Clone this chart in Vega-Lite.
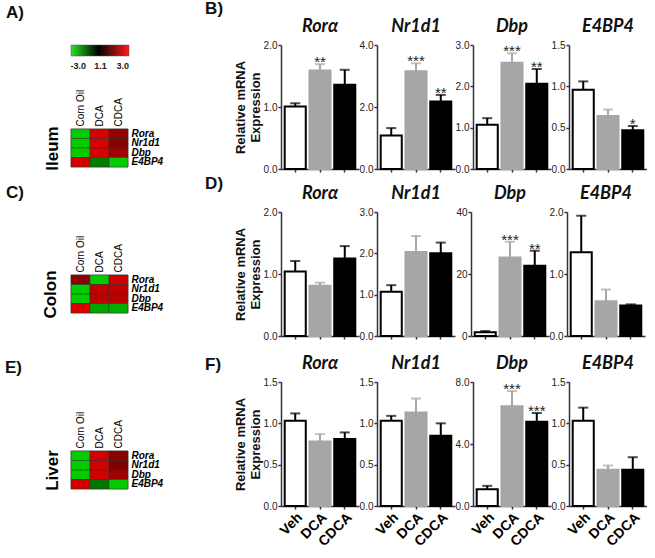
{
  "$schema": "https://vega.github.io/schema/vega-lite/v6.json",
  "padding": {"left": 5, "top": 0, "right": 0, "bottom": 0},
  "datasets": {
    "bars": [
      {"tissue": "Ileum", "gene": "Rorα", "group": "Veh", "mean": 1.01, "upper": 1.06, "sig": ""},
      {"tissue": "Ileum", "gene": "Rorα", "group": "DCA", "mean": 1.59, "upper": 1.69, "sig": "**"},
      {"tissue": "Ileum", "gene": "Rorα", "group": "CDCA", "mean": 1.36, "upper": 1.60, "sig": ""},
      {"tissue": "Ileum", "gene": "Nr1d1", "group": "Veh", "mean": 1.08, "upper": 1.32, "sig": ""},
      {"tissue": "Ileum", "gene": "Nr1d1", "group": "DCA", "mean": 3.15, "upper": 3.41, "sig": "***"},
      {"tissue": "Ileum", "gene": "Nr1d1", "group": "CDCA", "mean": 2.18, "upper": 2.39, "sig": "**"},
      {"tissue": "Ileum", "gene": "Dbp", "group": "Veh", "mean": 1.07, "upper": 1.23, "sig": ""},
      {"tissue": "Ileum", "gene": "Dbp", "group": "DCA", "mean": 2.57, "upper": 2.80, "sig": "***"},
      {"tissue": "Ileum", "gene": "Dbp", "group": "CDCA", "mean": 2.06, "upper": 2.42, "sig": "**"},
      {"tissue": "Ileum", "gene": "E4BP4", "group": "Veh", "mean": 0.96, "upper": 1.06, "sig": ""},
      {"tissue": "Ileum", "gene": "E4BP4", "group": "DCA", "mean": 0.64, "upper": 0.72, "sig": ""},
      {"tissue": "Ileum", "gene": "E4BP4", "group": "CDCA", "mean": 0.47, "upper": 0.52, "sig": "*"},
      {"tissue": "Colon", "gene": "Rorα", "group": "Veh", "mean": 1.04, "upper": 1.21, "sig": ""},
      {"tissue": "Colon", "gene": "Rorα", "group": "DCA", "mean": 0.81, "upper": 0.86, "sig": ""},
      {"tissue": "Colon", "gene": "Rorα", "group": "CDCA", "mean": 1.25, "upper": 1.45, "sig": ""},
      {"tissue": "Colon", "gene": "Nr1d1", "group": "Veh", "mean": 1.07, "upper": 1.23, "sig": ""},
      {"tissue": "Colon", "gene": "Nr1d1", "group": "DCA", "mean": 2.03, "upper": 2.42, "sig": ""},
      {"tissue": "Colon", "gene": "Nr1d1", "group": "CDCA", "mean": 2.0, "upper": 2.26, "sig": ""},
      {"tissue": "Colon", "gene": "Dbp", "group": "Veh", "mean": 1.2, "upper": 1.6, "sig": ""},
      {"tissue": "Colon", "gene": "Dbp", "group": "DCA", "mean": 25.3, "upper": 30.4, "sig": "***"},
      {"tissue": "Colon", "gene": "Dbp", "group": "CDCA", "mean": 22.7, "upper": 27.5, "sig": "**"},
      {"tissue": "Colon", "gene": "E4BP4", "group": "Veh", "mean": 1.35, "upper": 1.94, "sig": ""},
      {"tissue": "Colon", "gene": "E4BP4", "group": "DCA", "mean": 0.56, "upper": 0.75, "sig": ""},
      {"tissue": "Colon", "gene": "E4BP4", "group": "CDCA", "mean": 0.49, "upper": 0.51, "sig": ""},
      {"tissue": "Liver", "gene": "Rorα", "group": "Veh", "mean": 1.03, "upper": 1.12, "sig": ""},
      {"tissue": "Liver", "gene": "Rorα", "group": "DCA", "mean": 0.78, "upper": 0.87, "sig": ""},
      {"tissue": "Liver", "gene": "Rorα", "group": "CDCA", "mean": 0.81, "upper": 0.89, "sig": ""},
      {"tissue": "Liver", "gene": "Nr1d1", "group": "Veh", "mean": 1.03, "upper": 1.09, "sig": ""},
      {"tissue": "Liver", "gene": "Nr1d1", "group": "DCA", "mean": 1.13, "upper": 1.30, "sig": ""},
      {"tissue": "Liver", "gene": "Nr1d1", "group": "CDCA", "mean": 0.85, "upper": 1.0, "sig": ""},
      {"tissue": "Liver", "gene": "Dbp", "group": "Veh", "mean": 1.08, "upper": 1.3, "sig": ""},
      {"tissue": "Liver", "gene": "Dbp", "group": "DCA", "mean": 6.44, "upper": 7.42, "sig": "***"},
      {"tissue": "Liver", "gene": "Dbp", "group": "CDCA", "mean": 5.43, "upper": 6.0, "sig": "***"},
      {"tissue": "Liver", "gene": "E4BP4", "group": "Veh", "mean": 1.03, "upper": 1.19, "sig": ""},
      {"tissue": "Liver", "gene": "E4BP4", "group": "DCA", "mean": 0.44, "upper": 0.49, "sig": ""},
      {"tissue": "Liver", "gene": "E4BP4", "group": "CDCA", "mean": 0.44, "upper": 0.59, "sig": ""}
    ],
    "heat": [
      {"tissue": "Ileum", "gene": "Rora", "treatment": "Corn Oil", "value": -2.55},
      {"tissue": "Ileum", "gene": "Rora", "treatment": "DCA", "value": 2.59},
      {"tissue": "Ileum", "gene": "Rora", "treatment": "CDCA", "value": 1.9},
      {"tissue": "Ileum", "gene": "Nr1d1", "treatment": "Corn Oil", "value": -2.55},
      {"tissue": "Ileum", "gene": "Nr1d1", "treatment": "DCA", "value": 2.59},
      {"tissue": "Ileum", "gene": "Nr1d1", "treatment": "CDCA", "value": 1.71},
      {"tissue": "Ileum", "gene": "Dbp", "treatment": "Corn Oil", "value": -2.55},
      {"tissue": "Ileum", "gene": "Dbp", "treatment": "DCA", "value": 2.59},
      {"tissue": "Ileum", "gene": "Dbp", "treatment": "CDCA", "value": 2.01},
      {"tissue": "Ileum", "gene": "E4BP4", "treatment": "Corn Oil", "value": 2.55},
      {"tissue": "Ileum", "gene": "E4BP4", "treatment": "DCA", "value": -1.1},
      {"tissue": "Ileum", "gene": "E4BP4", "treatment": "CDCA", "value": -2.55},
      {"tissue": "Colon", "gene": "Rora", "treatment": "Corn Oil", "value": 1.77},
      {"tissue": "Colon", "gene": "Rora", "treatment": "DCA", "value": -2.55},
      {"tissue": "Colon", "gene": "Rora", "treatment": "CDCA", "value": 2.49},
      {"tissue": "Colon", "gene": "Nr1d1", "treatment": "Corn Oil", "value": -2.55},
      {"tissue": "Colon", "gene": "Nr1d1", "treatment": "DCA", "value": 2.35},
      {"tissue": "Colon", "gene": "Nr1d1", "treatment": "CDCA", "value": 2.35},
      {"tissue": "Colon", "gene": "Dbp", "treatment": "Corn Oil", "value": -2.55},
      {"tissue": "Colon", "gene": "Dbp", "treatment": "DCA", "value": 2.35},
      {"tissue": "Colon", "gene": "Dbp", "treatment": "CDCA", "value": 2.29},
      {"tissue": "Colon", "gene": "E4BP4", "treatment": "Corn Oil", "value": 2.62},
      {"tissue": "Colon", "gene": "E4BP4", "treatment": "DCA", "value": -1.83},
      {"tissue": "Colon", "gene": "E4BP4", "treatment": "CDCA", "value": -2.02},
      {"tissue": "Liver", "gene": "Rora", "treatment": "Corn Oil", "value": -2.55},
      {"tissue": "Liver", "gene": "Rora", "treatment": "DCA", "value": 2.53},
      {"tissue": "Liver", "gene": "Rora", "treatment": "CDCA", "value": 1.77},
      {"tissue": "Liver", "gene": "Nr1d1", "treatment": "Corn Oil", "value": -2.55},
      {"tissue": "Liver", "gene": "Nr1d1", "treatment": "DCA", "value": 2.53},
      {"tissue": "Liver", "gene": "Nr1d1", "treatment": "CDCA", "value": 1.65},
      {"tissue": "Liver", "gene": "Dbp", "treatment": "Corn Oil", "value": -2.55},
      {"tissue": "Liver", "gene": "Dbp", "treatment": "DCA", "value": 2.53},
      {"tissue": "Liver", "gene": "Dbp", "treatment": "CDCA", "value": 1.99},
      {"tissue": "Liver", "gene": "E4BP4", "treatment": "Corn Oil", "value": 2.53},
      {"tissue": "Liver", "gene": "E4BP4", "treatment": "DCA", "value": -0.95},
      {"tissue": "Liver", "gene": "E4BP4", "treatment": "CDCA", "value": -2.55}
    ]
  },
  "spacing": 42,
  "hconcat": [
    {
      "spacing": 13,
      "vconcat": [
        {
          "spacing": 19,
          "vconcat": [
            {
              "width": 58, "height": 11,
              "title": {"text": "A)", "anchor": "start", "font": "Liberation Sans", "fontStyle": "normal", "fontWeight": "bold", "fontSize": 17, "dx": -64, "offset": 23},
              "data": {"values": [{"lo": -3, "hi": 3}]},
              "mark": {"type": "rect", "stroke": "#555", "strokeWidth": 0.5,
                "fill": {"gradient": "linear", "x1": 0, "x2": 1, "y1": 0, "y2": 0,
                  "stops": [{"offset": 0, "color": "#26e626"}, {"offset": 0.47, "color": "#000000"}, {"offset": 1, "color": "#ff1a1a"}]}},
              "encoding": {
                "x": {"field": "lo", "type": "quantitative", "scale": {"domain": [-3, 3], "nice": false},
                  "axis": {"values": [-2.3, 0, 2.3], "labelExpr": "datum.value < -1 ? '-3.0' : datum.value > 1 ? '3.0' : '1.1'", "domain": false, "ticks": false, "title": null, "labelFont": "Liberation Sans", "labelFontWeight": "bold", "labelFontSize": 9, "labelColor": "#222", "labelPadding": 5}},
                "x2": {"field": "hi"}
              }
            },
            {
              "width": 57, "height": 38,
              "data": {"name": "heat"},
              "transform": [{"filter": "datum.tissue == 'Ileum'"}],
              "encoding": {
                "x": {"field": "treatment", "type": "nominal", "sort": ["Corn Oil", "DCA", "CDCA"], "axis": {"orient": "top", "labelAngle": -90, "title": null, "ticks": false, "domain": false, "labelFont": "Liberation Sans", "labelFontSize": 10, "labelColor": "#000", "labelPadding": 3}},
                "fill": {"field": "value", "type": "quantitative", "scale": {"domain": [-3, 1.1, 3], "range": ["#26e626", "#000000", "#ff1a1a"]}, "legend": null}
              },
              "layer": [
                {"mark": {"type": "rect", "stroke": "#333", "strokeWidth": 0.5},
                 "encoding": {"y": {"field": "gene", "type": "nominal", "sort": ["Rora", "Nr1d1", "Dbp", "E4BP4"], "axis": {"orient": "right", "title": null, "ticks": false, "domain": false, "labelFont": "Liberation Sans", "labelFontStyle": "italic", "labelFontWeight": "bold", "labelFontSize": 10, "labelColor": "#000", "labelPadding": 3}}}},
                {"mark": {"type": "rect", "stroke": "#333", "strokeWidth": 0.5},
                 "encoding": {"y": {"field": "gene", "type": "nominal", "sort": ["Rora", "Nr1d1", "Dbp", "E4BP4"], "axis": {"orient": "left", "labels": false, "ticks": false, "domain": false, "title": "Ileum", "titleFont": "Liberation Sans", "titleFontSize": 17, "titleFontWeight": "bold", "titleColor": "#000", "titlePadding": 10}}}}
              ],
              "resolve": {"axis": {"y": "independent"}}
            }
          ]
        },
        {
          "spacing": 40,
          "vconcat": [
            {
              "width": 57, "height": 38,
              "title": {"text": "C)", "anchor": "start", "font": "Liberation Sans", "fontStyle": "normal", "fontWeight": "bold", "fontSize": 17, "dx": -35, "offset": 33},
              "data": {"name": "heat"},
              "transform": [{"filter": "datum.tissue == 'Colon'"}],
              "encoding": {
                "x": {"field": "treatment", "type": "nominal", "sort": ["Corn Oil", "DCA", "CDCA"], "axis": {"orient": "top", "labelAngle": -90, "title": null, "ticks": false, "domain": false, "labelFont": "Liberation Sans", "labelFontSize": 10, "labelColor": "#000", "labelPadding": 3}},
                "fill": {"field": "value", "type": "quantitative", "scale": {"domain": [-3, 1.1, 3], "range": ["#26e626", "#000000", "#ff1a1a"]}, "legend": null}
              },
              "layer": [
                {"mark": {"type": "rect", "stroke": "#333", "strokeWidth": 0.5},
                 "encoding": {"y": {"field": "gene", "type": "nominal", "sort": ["Rora", "Nr1d1", "Dbp", "E4BP4"], "axis": {"orient": "right", "title": null, "ticks": false, "domain": false, "labelFont": "Liberation Sans", "labelFontStyle": "italic", "labelFontWeight": "bold", "labelFontSize": 10, "labelColor": "#000", "labelPadding": 3}}}},
                {"mark": {"type": "rect", "stroke": "#333", "strokeWidth": 0.5},
                 "encoding": {"y": {"field": "gene", "type": "nominal", "sort": ["Rora", "Nr1d1", "Dbp", "E4BP4"], "axis": {"orient": "left", "labels": false, "ticks": false, "domain": false, "title": "Colon", "titleFont": "Liberation Sans", "titleFontSize": 17, "titleFontWeight": "bold", "titleColor": "#000", "titlePadding": 12}}}}
              ],
              "resolve": {"axis": {"y": "independent"}}
            },
            {
              "width": 57, "height": 38,
              "title": {"text": "E)", "anchor": "start", "font": "Liberation Sans", "fontStyle": "normal", "fontWeight": "bold", "fontSize": 17, "dx": -38, "offset": 34},
              "data": {"name": "heat"},
              "transform": [{"filter": "datum.tissue == 'Liver'"}],
              "encoding": {
                "x": {"field": "treatment", "type": "nominal", "sort": ["Corn Oil", "DCA", "CDCA"], "axis": {"orient": "top", "labelAngle": -90, "title": null, "ticks": false, "domain": false, "labelFont": "Liberation Sans", "labelFontSize": 10, "labelColor": "#000", "labelPadding": 3}},
                "fill": {"field": "value", "type": "quantitative", "scale": {"domain": [-3, 1.1, 3], "range": ["#26e626", "#000000", "#ff1a1a"]}, "legend": null}
              },
              "layer": [
                {"mark": {"type": "rect", "stroke": "#333", "strokeWidth": 0.5},
                 "encoding": {"y": {"field": "gene", "type": "nominal", "sort": ["Rora", "Nr1d1", "Dbp", "E4BP4"], "axis": {"orient": "right", "title": null, "ticks": false, "domain": false, "labelFont": "Liberation Sans", "labelFontStyle": "italic", "labelFontWeight": "bold", "labelFontSize": 10, "labelColor": "#000", "labelPadding": 3}}}},
                {"mark": {"type": "rect", "stroke": "#333", "strokeWidth": 0.5},
                 "encoding": {"y": {"field": "gene", "type": "nominal", "sort": ["Rora", "Nr1d1", "Dbp", "E4BP4"], "axis": {"orient": "left", "labels": false, "ticks": false, "domain": false, "title": "Liver", "titleFont": "Liberation Sans", "titleFontSize": 17, "titleFontWeight": "bold", "titleColor": "#000", "titlePadding": 10}}}}
              ],
              "resolve": {"axis": {"y": "independent"}}
            }
          ]
        }
      ]
    },
    {
      "spacing": 0,
      "vconcat": [
        {
          "title": {"text": "B)", "anchor": "start", "font": "Liberation Sans", "fontStyle": "normal", "fontWeight": "bold", "fontSize": 17, "dx": -29, "offset": 0},
          "spacing": 0,
          "hconcat": [
            {"width": 78, "height": 124, "title": "Rorα", "data": {"name": "bars"},
             "transform": [{"filter": "datum.tissue == 'Ileum' && datum.gene == 'Rorα'"}],
             "encoding": {"x": {"field": "group", "type": "nominal", "sort": ["Veh", "DCA", "CDCA"], "scale": {"paddingInner": 0.15, "paddingOuter": 0.15}, "axis": {"labels": false, "title": null}}},
             "layer": [
               {"mark": {"type": "bar", "strokeWidth": 2}, "encoding": {"y": {"field": "mean", "type": "quantitative", "scale": {"domain": [0, 2], "nice": false}, "axis": {"values": [0, 0.5, 1, 1.5, 2], "format": ".1f", "title": ["Relative mRNA", "Expression"]}}, "fill": {"field": "group", "type": "nominal", "scale": {"domain": ["Veh", "DCA", "CDCA"], "range": ["#ffffff", "#a6a6a6", "#000000"]}, "legend": null}, "stroke": {"field": "group", "type": "nominal", "scale": {"domain": ["Veh", "DCA", "CDCA"], "range": ["#000000", "#a6a6a6", "#000000"]}, "legend": null}}},
               {"mark": {"type": "rule", "strokeWidth": 2}, "encoding": {"y": {"field": "mean", "type": "quantitative"}, "y2": {"field": "upper"}, "color": {"field": "group", "type": "nominal", "scale": {"domain": ["Veh", "DCA", "CDCA"], "range": ["#000000", "#a6a6a6", "#000000"]}, "legend": null}}},
               {"mark": {"type": "tick", "thickness": 2, "size": 10}, "encoding": {"y": {"field": "upper", "type": "quantitative"}, "color": {"field": "group", "type": "nominal", "legend": null}}},
               {"mark": {"type": "text", "fontSize": 15, "dy": 3, "baseline": "alphabetic", "color": "#222", "font": "Liberation Sans"}, "encoding": {"y": {"field": "upper", "type": "quantitative"}, "text": {"field": "sig"}}}
             ]},
            {"width": 78, "height": 124, "title": "Nr1d1", "data": {"name": "bars"},
             "transform": [{"filter": "datum.tissue == 'Ileum' && datum.gene == 'Nr1d1'"}],
             "encoding": {"x": {"field": "group", "type": "nominal", "sort": ["Veh", "DCA", "CDCA"], "scale": {"paddingInner": 0.15, "paddingOuter": 0.15}, "axis": {"labels": false, "title": null}}},
             "layer": [
               {"mark": {"type": "bar", "strokeWidth": 2}, "encoding": {"y": {"field": "mean", "type": "quantitative", "scale": {"domain": [0, 4], "nice": false}, "axis": {"values": [0, 1, 2, 3, 4], "format": ".1f", "title": null}}, "fill": {"field": "group", "type": "nominal", "scale": {"domain": ["Veh", "DCA", "CDCA"], "range": ["#ffffff", "#a6a6a6", "#000000"]}, "legend": null}, "stroke": {"field": "group", "type": "nominal", "scale": {"domain": ["Veh", "DCA", "CDCA"], "range": ["#000000", "#a6a6a6", "#000000"]}, "legend": null}}},
               {"mark": {"type": "rule", "strokeWidth": 2}, "encoding": {"y": {"field": "mean", "type": "quantitative"}, "y2": {"field": "upper"}, "color": {"field": "group", "type": "nominal", "scale": {"domain": ["Veh", "DCA", "CDCA"], "range": ["#000000", "#a6a6a6", "#000000"]}, "legend": null}}},
               {"mark": {"type": "tick", "thickness": 2, "size": 10}, "encoding": {"y": {"field": "upper", "type": "quantitative"}, "color": {"field": "group", "type": "nominal", "legend": null}}},
               {"mark": {"type": "text", "fontSize": 15, "dy": 3, "baseline": "alphabetic", "color": "#222", "font": "Liberation Sans"}, "encoding": {"y": {"field": "upper", "type": "quantitative"}, "text": {"field": "sig"}}}
             ]},
            {"width": 78, "height": 124, "title": "Dbp", "data": {"name": "bars"},
             "transform": [{"filter": "datum.tissue == 'Ileum' && datum.gene == 'Dbp'"}],
             "encoding": {"x": {"field": "group", "type": "nominal", "sort": ["Veh", "DCA", "CDCA"], "scale": {"paddingInner": 0.15, "paddingOuter": 0.15}, "axis": {"labels": false, "title": null}}},
             "layer": [
               {"mark": {"type": "bar", "strokeWidth": 2}, "encoding": {"y": {"field": "mean", "type": "quantitative", "scale": {"domain": [0, 3], "nice": false}, "axis": {"values": [0, 1, 2, 3], "format": ".1f", "title": null}}, "fill": {"field": "group", "type": "nominal", "scale": {"domain": ["Veh", "DCA", "CDCA"], "range": ["#ffffff", "#a6a6a6", "#000000"]}, "legend": null}, "stroke": {"field": "group", "type": "nominal", "scale": {"domain": ["Veh", "DCA", "CDCA"], "range": ["#000000", "#a6a6a6", "#000000"]}, "legend": null}}},
               {"mark": {"type": "rule", "strokeWidth": 2}, "encoding": {"y": {"field": "mean", "type": "quantitative"}, "y2": {"field": "upper"}, "color": {"field": "group", "type": "nominal", "scale": {"domain": ["Veh", "DCA", "CDCA"], "range": ["#000000", "#a6a6a6", "#000000"]}, "legend": null}}},
               {"mark": {"type": "tick", "thickness": 2, "size": 10}, "encoding": {"y": {"field": "upper", "type": "quantitative"}, "color": {"field": "group", "type": "nominal", "legend": null}}},
               {"mark": {"type": "text", "fontSize": 15, "dy": 3, "baseline": "alphabetic", "color": "#222", "font": "Liberation Sans"}, "encoding": {"y": {"field": "upper", "type": "quantitative"}, "text": {"field": "sig"}}}
             ]},
            {"width": 78, "height": 124, "title": "E4BP4", "data": {"name": "bars"},
             "transform": [{"filter": "datum.tissue == 'Ileum' && datum.gene == 'E4BP4'"}],
             "encoding": {"x": {"field": "group", "type": "nominal", "sort": ["Veh", "DCA", "CDCA"], "scale": {"paddingInner": 0.15, "paddingOuter": 0.15}, "axis": {"labels": false, "title": null}}},
             "layer": [
               {"mark": {"type": "bar", "strokeWidth": 2}, "encoding": {"y": {"field": "mean", "type": "quantitative", "scale": {"domain": [0, 1.5], "nice": false}, "axis": {"values": [0, 0.5, 1, 1.5], "format": ".1f", "title": null}}, "fill": {"field": "group", "type": "nominal", "scale": {"domain": ["Veh", "DCA", "CDCA"], "range": ["#ffffff", "#a6a6a6", "#000000"]}, "legend": null}, "stroke": {"field": "group", "type": "nominal", "scale": {"domain": ["Veh", "DCA", "CDCA"], "range": ["#000000", "#a6a6a6", "#000000"]}, "legend": null}}},
               {"mark": {"type": "rule", "strokeWidth": 2}, "encoding": {"y": {"field": "mean", "type": "quantitative"}, "y2": {"field": "upper"}, "color": {"field": "group", "type": "nominal", "scale": {"domain": ["Veh", "DCA", "CDCA"], "range": ["#000000", "#a6a6a6", "#000000"]}, "legend": null}}},
               {"mark": {"type": "tick", "thickness": 2, "size": 10}, "encoding": {"y": {"field": "upper", "type": "quantitative"}, "color": {"field": "group", "type": "nominal", "legend": null}}},
               {"mark": {"type": "text", "fontSize": 15, "dy": 3, "baseline": "alphabetic", "color": "#222", "font": "Liberation Sans"}, "encoding": {"y": {"field": "upper", "type": "quantitative"}, "text": {"field": "sig"}}}
             ]}
          ]
        },
        {
          "title": {"text": "D)", "anchor": "start", "font": "Liberation Sans", "fontStyle": "normal", "fontWeight": "bold", "fontSize": 17, "dx": -29, "offset": -8},
          "spacing": 0,
          "hconcat": [
            {"width": 78, "height": 124, "title": "Rorα", "data": {"name": "bars"},
             "transform": [{"filter": "datum.tissue == 'Colon' && datum.gene == 'Rorα'"}],
             "encoding": {"x": {"field": "group", "type": "nominal", "sort": ["Veh", "DCA", "CDCA"], "scale": {"paddingInner": 0.15, "paddingOuter": 0.15}, "axis": {"labels": false, "title": null, "minExtent": 19}}},
             "layer": [
               {"mark": {"type": "bar", "strokeWidth": 2}, "encoding": {"y": {"field": "mean", "type": "quantitative", "scale": {"domain": [0, 2], "nice": false}, "axis": {"values": [0, 0.5, 1, 1.5, 2], "format": ".1f", "title": ["Relative mRNA", "Expression"]}}, "fill": {"field": "group", "type": "nominal", "scale": {"domain": ["Veh", "DCA", "CDCA"], "range": ["#ffffff", "#a6a6a6", "#000000"]}, "legend": null}, "stroke": {"field": "group", "type": "nominal", "scale": {"domain": ["Veh", "DCA", "CDCA"], "range": ["#000000", "#a6a6a6", "#000000"]}, "legend": null}}},
               {"mark": {"type": "rule", "strokeWidth": 2}, "encoding": {"y": {"field": "mean", "type": "quantitative"}, "y2": {"field": "upper"}, "color": {"field": "group", "type": "nominal", "scale": {"domain": ["Veh", "DCA", "CDCA"], "range": ["#000000", "#a6a6a6", "#000000"]}, "legend": null}}},
               {"mark": {"type": "tick", "thickness": 2, "size": 10}, "encoding": {"y": {"field": "upper", "type": "quantitative"}, "color": {"field": "group", "type": "nominal", "legend": null}}},
               {"mark": {"type": "text", "fontSize": 15, "dy": 3, "baseline": "alphabetic", "color": "#222", "font": "Liberation Sans"}, "encoding": {"y": {"field": "upper", "type": "quantitative"}, "text": {"field": "sig"}}}
             ]},
            {"width": 78, "height": 124, "title": "Nr1d1", "data": {"name": "bars"},
             "transform": [{"filter": "datum.tissue == 'Colon' && datum.gene == 'Nr1d1'"}],
             "encoding": {"x": {"field": "group", "type": "nominal", "sort": ["Veh", "DCA", "CDCA"], "scale": {"paddingInner": 0.15, "paddingOuter": 0.15}, "axis": {"labels": false, "title": null, "minExtent": 19}}},
             "layer": [
               {"mark": {"type": "bar", "strokeWidth": 2}, "encoding": {"y": {"field": "mean", "type": "quantitative", "scale": {"domain": [0, 3], "nice": false}, "axis": {"values": [0, 1, 2, 3], "format": ".1f", "title": null}}, "fill": {"field": "group", "type": "nominal", "scale": {"domain": ["Veh", "DCA", "CDCA"], "range": ["#ffffff", "#a6a6a6", "#000000"]}, "legend": null}, "stroke": {"field": "group", "type": "nominal", "scale": {"domain": ["Veh", "DCA", "CDCA"], "range": ["#000000", "#a6a6a6", "#000000"]}, "legend": null}}},
               {"mark": {"type": "rule", "strokeWidth": 2}, "encoding": {"y": {"field": "mean", "type": "quantitative"}, "y2": {"field": "upper"}, "color": {"field": "group", "type": "nominal", "scale": {"domain": ["Veh", "DCA", "CDCA"], "range": ["#000000", "#a6a6a6", "#000000"]}, "legend": null}}},
               {"mark": {"type": "tick", "thickness": 2, "size": 10}, "encoding": {"y": {"field": "upper", "type": "quantitative"}, "color": {"field": "group", "type": "nominal", "legend": null}}},
               {"mark": {"type": "text", "fontSize": 15, "dy": 3, "baseline": "alphabetic", "color": "#222", "font": "Liberation Sans"}, "encoding": {"y": {"field": "upper", "type": "quantitative"}, "text": {"field": "sig"}}}
             ]},
            {"width": 78, "height": 124, "title": "Dbp", "data": {"name": "bars"},
             "transform": [{"filter": "datum.tissue == 'Colon' && datum.gene == 'Dbp'"}],
             "encoding": {"x": {"field": "group", "type": "nominal", "sort": ["Veh", "DCA", "CDCA"], "scale": {"paddingInner": 0.15, "paddingOuter": 0.15}, "axis": {"labels": false, "title": null, "minExtent": 19}}},
             "layer": [
               {"mark": {"type": "bar", "strokeWidth": 2}, "encoding": {"y": {"field": "mean", "type": "quantitative", "scale": {"domain": [0, 40], "nice": false}, "axis": {"values": [0, 10, 20, 30, 40], "format": "d", "title": null}}, "fill": {"field": "group", "type": "nominal", "scale": {"domain": ["Veh", "DCA", "CDCA"], "range": ["#ffffff", "#a6a6a6", "#000000"]}, "legend": null}, "stroke": {"field": "group", "type": "nominal", "scale": {"domain": ["Veh", "DCA", "CDCA"], "range": ["#000000", "#a6a6a6", "#000000"]}, "legend": null}}},
               {"mark": {"type": "rule", "strokeWidth": 2}, "encoding": {"y": {"field": "mean", "type": "quantitative"}, "y2": {"field": "upper"}, "color": {"field": "group", "type": "nominal", "scale": {"domain": ["Veh", "DCA", "CDCA"], "range": ["#000000", "#a6a6a6", "#000000"]}, "legend": null}}},
               {"mark": {"type": "tick", "thickness": 2, "size": 10}, "encoding": {"y": {"field": "upper", "type": "quantitative"}, "color": {"field": "group", "type": "nominal", "legend": null}}},
               {"mark": {"type": "text", "fontSize": 15, "dy": 3, "baseline": "alphabetic", "color": "#222", "font": "Liberation Sans"}, "encoding": {"y": {"field": "upper", "type": "quantitative"}, "text": {"field": "sig"}}}
             ]},
            {"width": 78, "height": 124, "title": "E4BP4", "data": {"name": "bars"},
             "transform": [{"filter": "datum.tissue == 'Colon' && datum.gene == 'E4BP4'"}],
             "encoding": {"x": {"field": "group", "type": "nominal", "sort": ["Veh", "DCA", "CDCA"], "scale": {"paddingInner": 0.15, "paddingOuter": 0.15}, "axis": {"labels": false, "title": null, "minExtent": 19}}},
             "layer": [
               {"mark": {"type": "bar", "strokeWidth": 2}, "encoding": {"y": {"field": "mean", "type": "quantitative", "scale": {"domain": [0, 2], "nice": false}, "axis": {"values": [0, 0.5, 1, 1.5, 2], "format": ".1f", "title": null}}, "fill": {"field": "group", "type": "nominal", "scale": {"domain": ["Veh", "DCA", "CDCA"], "range": ["#ffffff", "#a6a6a6", "#000000"]}, "legend": null}, "stroke": {"field": "group", "type": "nominal", "scale": {"domain": ["Veh", "DCA", "CDCA"], "range": ["#000000", "#a6a6a6", "#000000"]}, "legend": null}}},
               {"mark": {"type": "rule", "strokeWidth": 2}, "encoding": {"y": {"field": "mean", "type": "quantitative"}, "y2": {"field": "upper"}, "color": {"field": "group", "type": "nominal", "scale": {"domain": ["Veh", "DCA", "CDCA"], "range": ["#000000", "#a6a6a6", "#000000"]}, "legend": null}}},
               {"mark": {"type": "tick", "thickness": 2, "size": 10}, "encoding": {"y": {"field": "upper", "type": "quantitative"}, "color": {"field": "group", "type": "nominal", "legend": null}}},
               {"mark": {"type": "text", "fontSize": 15, "dy": 3, "baseline": "alphabetic", "color": "#222", "font": "Liberation Sans"}, "encoding": {"y": {"field": "upper", "type": "quantitative"}, "text": {"field": "sig"}}}
             ]}
          ]
        },
        {
          "title": {"text": "F)", "anchor": "start", "font": "Liberation Sans", "fontStyle": "normal", "fontWeight": "bold", "fontSize": 17, "dx": -29, "dy": 14, "offset": -5},
          "spacing": 0,
          "hconcat": [
            {"width": 78, "height": 124, "title": "Rorα", "data": {"name": "bars"},
             "transform": [{"filter": "datum.tissue == 'Liver' && datum.gene == 'Rorα'"}],
             "encoding": {"x": {"field": "group", "type": "nominal", "sort": ["Veh", "DCA", "CDCA"], "scale": {"paddingInner": 0.15, "paddingOuter": 0.15}, "axis": {"labelAngle": -45, "labelFont": "Liberation Sans", "labelFontWeight": "bold", "labelFontSize": 14, "labelColor": "#000", "title": null}}},
             "layer": [
               {"mark": {"type": "bar", "strokeWidth": 2}, "encoding": {"y": {"field": "mean", "type": "quantitative", "scale": {"domain": [0, 1.5], "nice": false}, "axis": {"values": [0, 0.5, 1, 1.5], "format": ".1f", "title": ["Relative mRNA", "Expression"]}}, "fill": {"field": "group", "type": "nominal", "scale": {"domain": ["Veh", "DCA", "CDCA"], "range": ["#ffffff", "#a6a6a6", "#000000"]}, "legend": null}, "stroke": {"field": "group", "type": "nominal", "scale": {"domain": ["Veh", "DCA", "CDCA"], "range": ["#000000", "#a6a6a6", "#000000"]}, "legend": null}}},
               {"mark": {"type": "rule", "strokeWidth": 2}, "encoding": {"y": {"field": "mean", "type": "quantitative"}, "y2": {"field": "upper"}, "color": {"field": "group", "type": "nominal", "scale": {"domain": ["Veh", "DCA", "CDCA"], "range": ["#000000", "#a6a6a6", "#000000"]}, "legend": null}}},
               {"mark": {"type": "tick", "thickness": 2, "size": 10}, "encoding": {"y": {"field": "upper", "type": "quantitative"}, "color": {"field": "group", "type": "nominal", "legend": null}}},
               {"mark": {"type": "text", "fontSize": 15, "dy": 3, "baseline": "alphabetic", "color": "#222", "font": "Liberation Sans"}, "encoding": {"y": {"field": "upper", "type": "quantitative"}, "text": {"field": "sig"}}}
             ]},
            {"width": 78, "height": 124, "title": "Nr1d1", "data": {"name": "bars"},
             "transform": [{"filter": "datum.tissue == 'Liver' && datum.gene == 'Nr1d1'"}],
             "encoding": {"x": {"field": "group", "type": "nominal", "sort": ["Veh", "DCA", "CDCA"], "scale": {"paddingInner": 0.15, "paddingOuter": 0.15}, "axis": {"labelAngle": -45, "labelFont": "Liberation Sans", "labelFontWeight": "bold", "labelFontSize": 14, "labelColor": "#000", "title": null}}},
             "layer": [
               {"mark": {"type": "bar", "strokeWidth": 2}, "encoding": {"y": {"field": "mean", "type": "quantitative", "scale": {"domain": [0, 1.5], "nice": false}, "axis": {"values": [0, 0.5, 1, 1.5], "format": ".1f", "title": null}}, "fill": {"field": "group", "type": "nominal", "scale": {"domain": ["Veh", "DCA", "CDCA"], "range": ["#ffffff", "#a6a6a6", "#000000"]}, "legend": null}, "stroke": {"field": "group", "type": "nominal", "scale": {"domain": ["Veh", "DCA", "CDCA"], "range": ["#000000", "#a6a6a6", "#000000"]}, "legend": null}}},
               {"mark": {"type": "rule", "strokeWidth": 2}, "encoding": {"y": {"field": "mean", "type": "quantitative"}, "y2": {"field": "upper"}, "color": {"field": "group", "type": "nominal", "scale": {"domain": ["Veh", "DCA", "CDCA"], "range": ["#000000", "#a6a6a6", "#000000"]}, "legend": null}}},
               {"mark": {"type": "tick", "thickness": 2, "size": 10}, "encoding": {"y": {"field": "upper", "type": "quantitative"}, "color": {"field": "group", "type": "nominal", "legend": null}}},
               {"mark": {"type": "text", "fontSize": 15, "dy": 3, "baseline": "alphabetic", "color": "#222", "font": "Liberation Sans"}, "encoding": {"y": {"field": "upper", "type": "quantitative"}, "text": {"field": "sig"}}}
             ]},
            {"width": 78, "height": 124, "title": "Dbp", "data": {"name": "bars"},
             "transform": [{"filter": "datum.tissue == 'Liver' && datum.gene == 'Dbp'"}],
             "encoding": {"x": {"field": "group", "type": "nominal", "sort": ["Veh", "DCA", "CDCA"], "scale": {"paddingInner": 0.15, "paddingOuter": 0.15}, "axis": {"labelAngle": -45, "labelFont": "Liberation Sans", "labelFontWeight": "bold", "labelFontSize": 14, "labelColor": "#000", "title": null}}},
             "layer": [
               {"mark": {"type": "bar", "strokeWidth": 2}, "encoding": {"y": {"field": "mean", "type": "quantitative", "scale": {"domain": [0, 8], "nice": false}, "axis": {"values": [0, 2, 4, 6, 8], "format": ".1f", "title": null}}, "fill": {"field": "group", "type": "nominal", "scale": {"domain": ["Veh", "DCA", "CDCA"], "range": ["#ffffff", "#a6a6a6", "#000000"]}, "legend": null}, "stroke": {"field": "group", "type": "nominal", "scale": {"domain": ["Veh", "DCA", "CDCA"], "range": ["#000000", "#a6a6a6", "#000000"]}, "legend": null}}},
               {"mark": {"type": "rule", "strokeWidth": 2}, "encoding": {"y": {"field": "mean", "type": "quantitative"}, "y2": {"field": "upper"}, "color": {"field": "group", "type": "nominal", "scale": {"domain": ["Veh", "DCA", "CDCA"], "range": ["#000000", "#a6a6a6", "#000000"]}, "legend": null}}},
               {"mark": {"type": "tick", "thickness": 2, "size": 10}, "encoding": {"y": {"field": "upper", "type": "quantitative"}, "color": {"field": "group", "type": "nominal", "legend": null}}},
               {"mark": {"type": "text", "fontSize": 15, "dy": 3, "baseline": "alphabetic", "color": "#222", "font": "Liberation Sans"}, "encoding": {"y": {"field": "upper", "type": "quantitative"}, "text": {"field": "sig"}}}
             ]},
            {"width": 78, "height": 124, "title": "E4BP4", "data": {"name": "bars"},
             "transform": [{"filter": "datum.tissue == 'Liver' && datum.gene == 'E4BP4'"}],
             "encoding": {"x": {"field": "group", "type": "nominal", "sort": ["Veh", "DCA", "CDCA"], "scale": {"paddingInner": 0.15, "paddingOuter": 0.15}, "axis": {"labelAngle": -45, "labelFont": "Liberation Sans", "labelFontWeight": "bold", "labelFontSize": 14, "labelColor": "#000", "title": null}}},
             "layer": [
               {"mark": {"type": "bar", "strokeWidth": 2}, "encoding": {"y": {"field": "mean", "type": "quantitative", "scale": {"domain": [0, 1.5], "nice": false}, "axis": {"values": [0, 0.5, 1, 1.5], "format": ".1f", "title": null}}, "fill": {"field": "group", "type": "nominal", "scale": {"domain": ["Veh", "DCA", "CDCA"], "range": ["#ffffff", "#a6a6a6", "#000000"]}, "legend": null}, "stroke": {"field": "group", "type": "nominal", "scale": {"domain": ["Veh", "DCA", "CDCA"], "range": ["#000000", "#a6a6a6", "#000000"]}, "legend": null}}},
               {"mark": {"type": "rule", "strokeWidth": 2}, "encoding": {"y": {"field": "mean", "type": "quantitative"}, "y2": {"field": "upper"}, "color": {"field": "group", "type": "nominal", "scale": {"domain": ["Veh", "DCA", "CDCA"], "range": ["#000000", "#a6a6a6", "#000000"]}, "legend": null}}},
               {"mark": {"type": "tick", "thickness": 2, "size": 10}, "encoding": {"y": {"field": "upper", "type": "quantitative"}, "color": {"field": "group", "type": "nominal", "legend": null}}},
               {"mark": {"type": "text", "fontSize": 15, "dy": 3, "baseline": "alphabetic", "color": "#222", "font": "Liberation Sans"}, "encoding": {"y": {"field": "upper", "type": "quantitative"}, "text": {"field": "sig"}}}
             ]}
          ]
        }
      ]
    }
  ],
  "config": {
    "view": {"stroke": null},
    "axis": {"grid": false, "domainColor": "#333", "domainWidth": 1.5, "tickColor": "#333", "tickWidth": 1.5, "tickSize": 3, "labelPadding": 1, "labelFont": "Liberation Sans Narrow, Liberation Sans, sans-serif", "labelFontSize": 10, "labelColor": "#222", "titleFont": "Liberation Sans", "titleFontSize": 13, "titleFontWeight": "bold", "titleColor": "#111", "titlePadding": 1},
    "title": {"font": "Lato", "fontStyle": "italic", "fontWeight": "bold", "fontSize": 18, "color": "#111", "offset": 4}
  }
}
